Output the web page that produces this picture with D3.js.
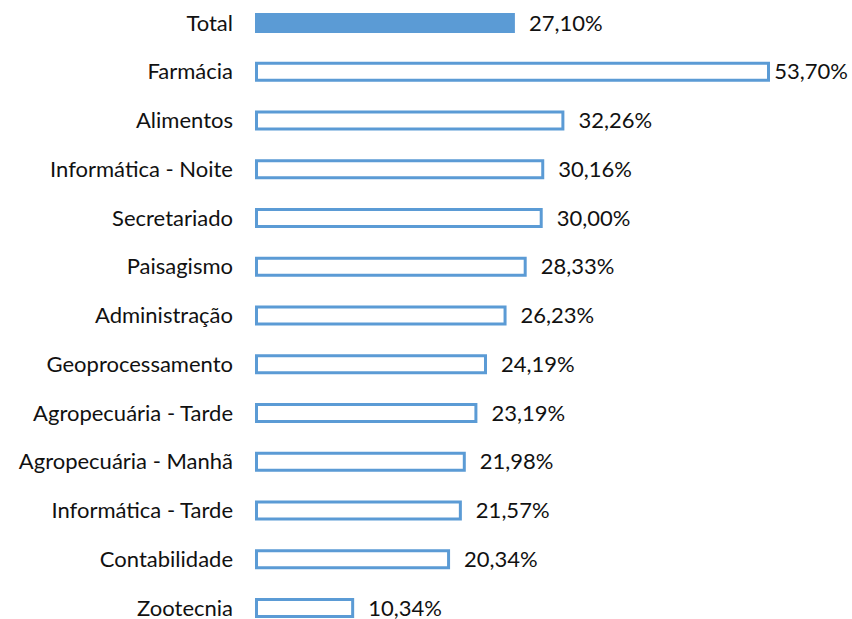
<!doctype html>
<html lang="pt">
  <head>
    <meta charset="utf-8">
    <title>Percentuais por curso</title>
    <script src="https://d3js.org/d3.v7.min.js"></script>
    <style>
      body { margin: 0; background: #fff; }
      text { font-family: Lato, "Open Sans", sans-serif; font-size: 22px; fill: #111; }
    </style>
  </head>

  <body>
    <svg width="852" height="619"></svg>
    <script>
      // categories, top to bottom
      var cursos = ['Total', 'Farmácia', 'Alimentos', 'Informática - Noite', 'Secretariado',
        'Paisagismo', 'Administração', 'Geoprocessamento', 'Agropecuária - Tarde',
        'Agropecuária - Manhã', 'Informática - Tarde', 'Contabilidade', 'Zootecnia'];
      var valores = [27.10, 53.70, 32.26, 30.16, 30.00, 28.33, 26.23, 24.19, 23.19,
        21.98, 21.57, 20.34, 10.34];

      var svg = d3.select('svg');
      var W = 852, barH = 20, sw = 3;
      var blue = '#5B9BD5';

      var x = d3.scaleLinear().domain([0, 53.7]).range([255, 770]);
      var y = d3.scalePoint().domain(cursos).range([23, 608]);
      var fmt = function(v){ return d3.format('.2f')(v).replace('.', ',') + '%'; };

      var rows = svg.selectAll('g.row')
        .data(cursos.map(function(c, i){ return { nome: c, v: valores[i], total: i === 0 }; }))
        .enter().append('g')
          .attr('class', 'row');

      rows.append('rect')
        .attr('x', function(d){ return d.total ? x(0) : x(0) + sw / 2; })
        .attr('y', function(d){ return d.total ? y(d.nome) - barH / 2 : y(d.nome) - barH / 2 + sw / 2; })
        .attr('width', function(d){ return d.total ? x(d.v) - x(0) : x(d.v) - x(0) - sw; })
        .attr('height', function(d){ return d.total ? barH : barH - sw; })
        .style('fill', function(d){ return d.total ? blue : '#fff'; })
        .style('stroke', function(d){ return d.total ? 'none' : blue; })
        .style('stroke-width', sw);

      rows.append('text')
        .attr('x', 233)
        .attr('y', function(d){ return y(d.nome) + 7.5; })
        .attr('text-anchor', 'end')
        .text(function(d){ return d.nome; });

      rows.append('text')
        .attr('class', 'val')
        .attr('y', function(d){ return y(d.nome) + 7.5; })
        .text(function(d){ return fmt(d.v); })
        .attr('x', function(d){
          var w = this.getComputedTextLength();
          return Math.min(x(d.v) + 14, W - 4 - w);
        });
    </script>
  </body>
</html>
